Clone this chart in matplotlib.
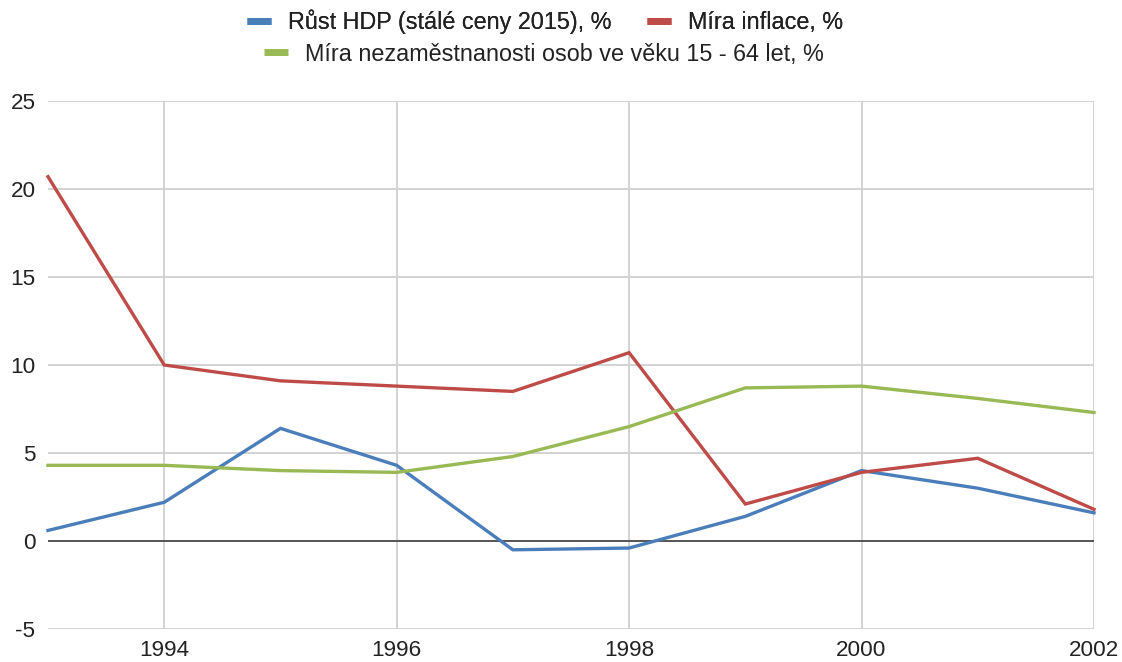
import matplotlib
matplotlib.use("Agg")
import matplotlib.pyplot as plt
from matplotlib.lines import Line2D

years = [1993, 1994, 1995, 1996, 1997, 1998, 1999, 2000, 2001, 2002]
gdp = [0.6, 2.2, 6.4, 4.3, -0.5, -0.4, 1.4, 4.0, 3.0, 1.6]
inflation = [20.7, 10.0, 9.1, 8.8, 8.5, 10.7, 2.1, 3.9, 4.7, 1.8]
unemployment = [4.3, 4.3, 4.0, 3.9, 4.8, 6.5, 8.7, 8.8, 8.1, 7.3]
labels = ["Růst HDP (stálé ceny 2015), %", "Míra inflace, %",
          "Míra nezaměstnanosti osob ve věku 15 - 64 let, %"]
colors = ["#4a7ebb", "#be4b48", "#98b954"]
xticks = [1994, 1996, 1998, 2000, 2002]
yticks = [-5, 0, 5, 10, 15, 20, 25]
ytick_labels = ["-5", "0", "5", "10", "15", "20", "25"]

plt.rcParams['font.family'] = ['Liberation Sans', 'DejaVu Sans']

fig = plt.figure(figsize=(11.22, 6.62), dpi=100)
W, H = 1122, 662
ax = fig.add_axes([48 / W, 1 - 629 / H, (1094 - 48) / W, (629 - 101) / H])

ax.set_xlim(1993, 2002)
ax.set_ylim(-5, 25)
ax.set_xticks(xticks)
ax.set_yticks(yticks)
ax.set_yticklabels(ytick_labels)
ax.grid(True, color="#d0d0d0", linewidth=1.3)
ax.set_axisbelow(True)
for s in ax.spines.values():
    s.set_visible(False)
ax.tick_params(length=0, labelsize=16.2, colors="#222222")
ax.tick_params(axis='x', pad=8)
ax.tick_params(axis='y', pad=9)
ax.axhline(0, color="#333333", linewidth=1.1, zorder=2)

series = [gdp, inflation, unemployment]
for vals, c in zip(series, colors):
    ax.plot(years, vals, color=c, linewidth=2.4, zorder=3, clip_on=False,
            solid_joinstyle='miter')

h = [Line2D([], [], color=c, linewidth=5, solid_capstyle='butt') for c in colors]
leg1 = fig.legend(h[:2], labels[:2], ncol=2, loc='center',
                  bbox_to_anchor=(545 / W, 1 - 22 / H), frameon=False,
                  fontsize=16.8, handlelength=1.03, handletextpad=0.73,
                  columnspacing=1.5, labelcolor="#222222")
leg2 = fig.legend(h[2:], labels[2:], loc='center',
                  bbox_to_anchor=(543.5 / W, 1 - 54 / H), frameon=False,
                  fontsize=16.8, handlelength=1.03, handletextpad=0.73,
                  labelcolor="#222222")
fig.add_artist(leg1)

fig.savefig("out.png", dpi=100)
